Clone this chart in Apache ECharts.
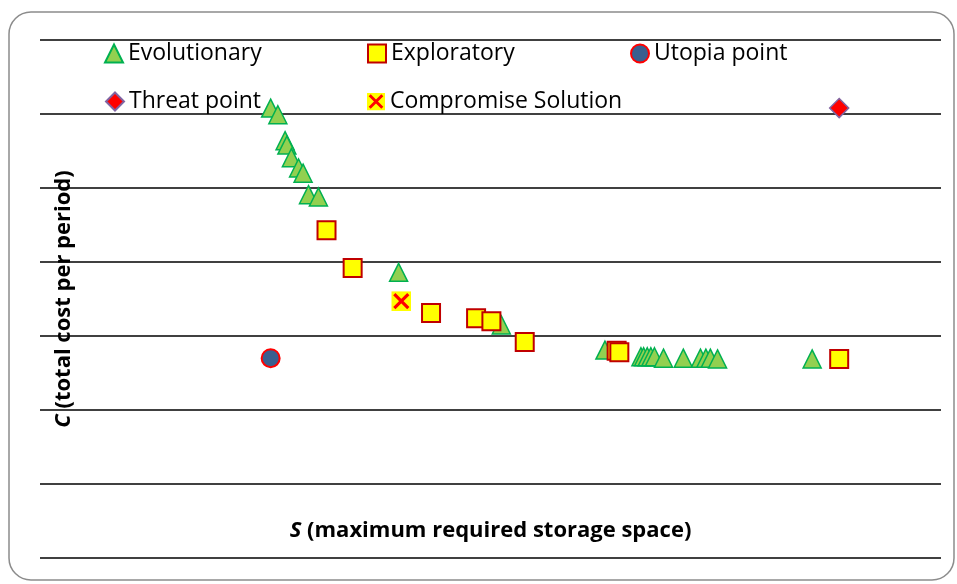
<!DOCTYPE html>
<html>
<head>
<meta charset="utf-8">
<script src="https://cdn.jsdelivr.net/npm/echarts@6/dist/echarts.min.js"></script>
<style>html,body{margin:0;padding:0;background:#fff;}#c{width:957px;height:584px;}</style>
</head>
<body>
<div id="c"></div>
<script>
// Data (arbitrary units; axes carry no tick labels)
const seriesNames = ['Evolutionary', 'Exploratory', 'Utopia point', 'Threat point', 'Compromise Solution'];
const evoX = [25.6, 26.4, 27.2, 27.4, 27.9, 28.7, 29.2, 29.8, 30.9, 39.8, 51.2, 62.7, 66.7, 67.0, 67.4, 67.8, 68.2, 69.2, 71.4, 73.3, 73.9, 74.4, 75.2, 85.7];
const evoY = [6.08, 5.99, 5.64, 5.58, 5.41, 5.27, 5.20, 4.91, 4.88, 3.86, 3.15, 2.81, 2.72, 2.72, 2.72, 2.72, 2.72, 2.70, 2.70, 2.70, 2.70, 2.70, 2.69, 2.69];
const expX = [31.8, 34.7, 43.4, 48.4, 50.1, 53.8, 64.0, 64.3, 88.7];
const expY = [4.43, 3.92, 3.31, 3.24, 3.20, 2.92, 2.80, 2.78, 2.69];
const utoX = [25.6];
const utoY = [2.70];
const thrX = [88.7];
const thrY = [6.08];
const comX = [40.1];
const comY = [3.47];
const yTicks = [0, 1, 2, 3, 4, 5, 6, 7];

const zip = (xs, ys) => xs.map((x, i) => [x, ys[i]]);

const xIcon = 'image://data:image/svg+xml;utf8,' + encodeURIComponent(
  '<svg xmlns="http://www.w3.org/2000/svg" width="20" height="20" viewBox="0 0 20 20">' +
  '<rect x="0" y="0" width="20" height="20" fill="#FFFF00"/>' +
  '<path d="M3 3 L17 17 M17 3 L3 17" stroke="#FF0000" stroke-width="3.2" stroke-linecap="butt"/></svg>');

const FONT = 'Open Sans';
const legendBase = {
  orient: 'horizontal', padding: 0, itemWidth: 18, itemHeight: 18,
  textStyle: { fontFamily: FONT, fontSize: 23, color: '#000' },
  selectedMode: false
};
function lg(name, left, top) {
  return Object.assign({}, legendBase, { data: [name], left: left, top: top });
}

const chart = echarts.init(document.getElementById('c'), null, { renderer: 'canvas' });
chart.setOption({
  backgroundColor: '#fff',
  animation: false,
  graphic: [{
    type: 'rect', z: -10, silent: true,
    shape: { x: 9, y: 12, width: 945, height: 568, r: 22 },
    style: { fill: 'none', stroke: '#8c8c8c', lineWidth: 1.5 }
  }],
  legend: [
    lg(seriesNames[0], 104, 42),
    lg(seriesNames[1], 367, 42),
    lg(seriesNames[2], 630, 42),
    lg(seriesNames[3], 105, 90),
    lg(seriesNames[4], 367, 90)
  ],
  grid: { left: 40, right: 16, top: 40, bottom: 26, containLabel: false },
  xAxis: {
    type: 'value', min: 0, max: 100,
    name: '{i|S} (maximum required storage space)',
    nameLocation: 'middle', nameGap: -38,
    nameTextStyle: {
      fontFamily: FONT, fontSize: 22, fontWeight: 'bold', color: '#000',
      rich: { i: { fontFamily: FONT, fontSize: 22, fontWeight: 'bold', fontStyle: 'italic', color: '#000' } }
    },
    axisLine: { show: false }, axisTick: { show: false }, axisLabel: { show: false },
    splitLine: { show: false }
  },
  yAxis: {
    type: 'value', min: yTicks[0], max: yTicks[yTicks.length - 1], interval: 1,
    name: '{i|C} (total cost per period)',
    nameLocation: 'middle', nameRotate: 90, nameGap: -35,
    nameTextStyle: {
      fontFamily: FONT, fontSize: 22, fontWeight: 'bold', color: '#000',
      rich: { i: { fontFamily: FONT, fontSize: 22, fontWeight: 'bold', fontStyle: 'italic', color: '#000' } }
    },
    axisLine: { show: false }, axisTick: { show: false }, axisLabel: { show: false },
    splitLine: { show: true, lineStyle: { color: '#000', width: 1.6 } }
  },
  series: [
    {
      name: seriesNames[0], type: 'scatter', symbol: 'triangle', symbolSize: 18,
      itemStyle: { color: '#92D050', borderColor: '#00B050', borderWidth: 1.5, opacity: 1 },
      data: zip(evoX, evoY), z: 2
    },
    {
      name: seriesNames[1], type: 'scatter', symbol: 'rect', symbolSize: 18,
      itemStyle: { color: '#FFFF00', borderColor: '#C00000', borderWidth: 2, opacity: 1 },
      data: zip(expX, expY), z: 3
    },
    {
      name: seriesNames[2], type: 'scatter', symbol: 'circle', symbolSize: 18,
      itemStyle: { color: '#3A5F8F', borderColor: '#FF0000', borderWidth: 2, opacity: 1 },
      data: zip(utoX, utoY), z: 4
    },
    {
      name: seriesNames[3], type: 'scatter', symbol: 'diamond', symbolSize: 19,
      itemStyle: { color: '#FF0000', borderColor: '#8064A2', borderWidth: 1.5, opacity: 1 },
      data: zip(thrX, thrY), z: 4
    },
    {
      name: seriesNames[4], type: 'scatter', symbol: xIcon, symbolSize: 20,
      itemStyle: { opacity: 1 },
      data: zip(comX, comY), z: 5
    }
  ]
});
</script>
</body>
</html>
